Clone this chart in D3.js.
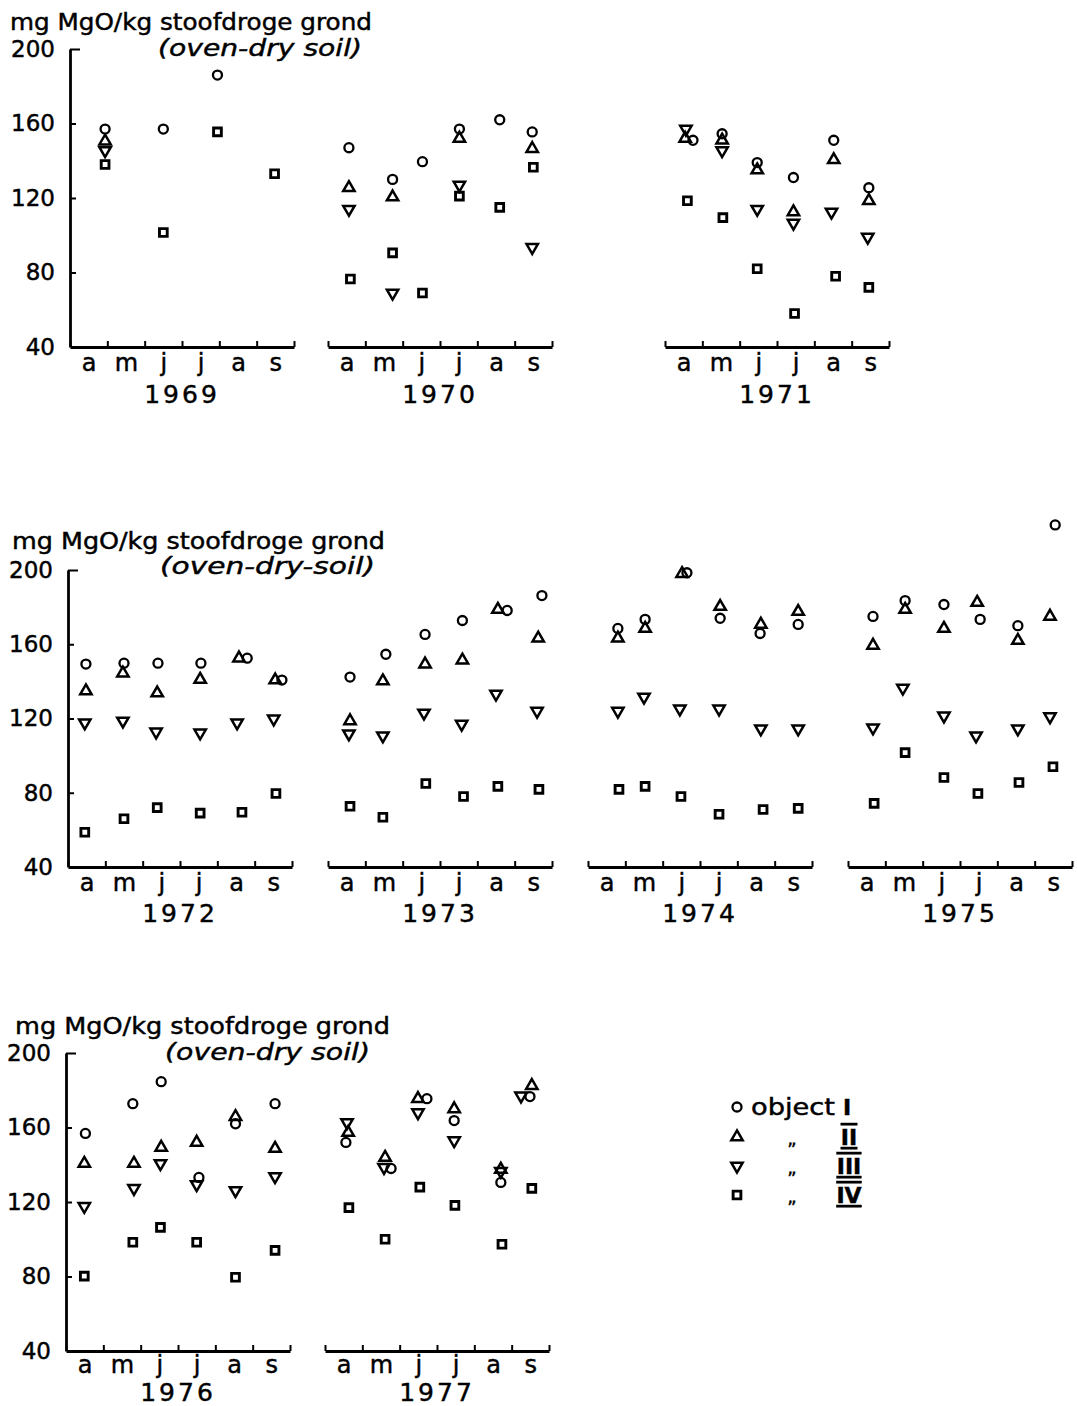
<!DOCTYPE html>
<html><head><meta charset="utf-8">
<script src="https://cdn.jsdelivr.net/npm/d3@7"></script>
<style>
body{margin:0;background:#fff}
svg{display:block}
text{font-family:"DejaVu Sans",sans-serif;fill:#000;stroke:#000;stroke-width:0.45px}
</style>
</head><body>
<svg id="c" width="1077" height="1406"></svg>
<script>
// ---------- data ----------
const months = ["a","m","j","j","a","s"];
const yTicks = [40,80,120,160,200];
const objects = ["I","II","III","IV"];
const titleText = "mg MgO/kg stoofdroge grond";
const subtitles = ["(oven-dry soil)","(oven-dry-soil)","(oven-dry soil)"];
const years = [1969,1970,1971,1972,1973,1974,1975,1976,1977];

// [object, position in months after 1 April, mg MgO/kg]
const data1969 = [
 ["I",0.94,157],["I",2.5,157],["I",3.95,186],
 ["II",0.94,150.5],
 ["III",0.94,145.5],
 ["IV",0.94,138],["IV",2.5,101.5],["IV",3.95,155.5],["IV",5.48,133]
];
const data1970 = [
 ["I",0.56,147],["I",1.73,130],["I",2.53,139.5],["I",3.52,157],["I",4.6,162],["I",5.47,155.5],
 ["II",0.56,125.5],["II",1.73,120.5],["II",3.52,152],["II",5.47,146.5],
 ["III",0.56,114],["III",1.73,69],["III",3.52,127],["III",5.47,93.5],
 ["IV",0.6,76.5],["IV",1.73,90.5],["IV",2.53,69],["IV",3.52,121],["IV",4.6,115],["IV",5.5,136.5]
];
const data1971 = [
 ["I",0.75,151],["I",1.53,154.5],["I",2.47,139],["I",3.44,131],["I",4.52,151],["I",5.46,125.5],
 ["II",0.54,152],["II",1.53,151],["II",2.47,135],["II",3.44,112.5],["II",4.52,140.5],["II",5.46,118.5],
 ["III",0.56,157],["III",1.53,145.5],["III",2.47,114],["III",3.44,106.5],["III",4.46,112.5],["III",5.43,99],
 ["IV",0.6,118.5],["IV",1.55,109.5],["IV",2.47,82],["IV",3.47,58],["IV",4.57,78],["IV",5.46,72]
];
const data1972 = [
 ["I",0.48,149.3],["I",1.5,149.8],["I",2.41,149.8],["I",3.56,149.8],["I",4.8,152.5],["I",5.73,140.7],
 ["II",0.48,134.8],["II",1.47,144.4],["II",2.39,133.7],["II",3.54,141],["II",4.58,152.5],["II",5.55,140.7],
 ["III",0.45,117.7],["III",1.47,118.7],["III",2.36,112.8],["III",3.54,112.3],["III",4.53,117.7],["III",5.51,119.8],
 ["IV",0.45,58.7],["IV",1.5,66],["IV",2.39,72],["IV",3.54,69],["IV",4.66,69.5],["IV",5.57,79.6]
];
const data1973 = [
 ["I",0.59,142.3],["I",1.55,154.6],["I",2.6,165.3],["I",3.6,172.8],["I",4.8,178.2],["I",5.73,186.2],
 ["II",0.59,118.7],["II",1.47,140.2],["II",2.6,149.3],["II",3.6,151.4],["II",4.55,178.7],["II",5.63,163.2],
 ["III",0.56,111.8],["III",1.47,110.7],["III",2.57,123],["III",3.58,117],["III",4.5,133.2],["III",5.6,124],
 ["IV",0.59,72.7],["IV",1.47,66.8],["IV",2.62,85],["IV",3.63,78],["IV",4.55,83.4],["IV",5.65,81.8]
];
const data1974 = [
 ["I",0.8,168.5],["I",1.53,173.4],["I",2.65,198.5],["I",3.54,174],["I",4.61,165.8],["I",5.63,170.7],
 ["II",0.8,163.2],["II",1.53,168.5],["II",2.52,198],["II",3.54,180.3],["II",4.63,170.7],["II",5.63,177.6],
 ["III",0.8,124],["III",1.5,131.6],["III",2.46,125.2],["III",3.51,125.2],["III",4.63,114.5],["III",5.63,114.5],
 ["IV",0.83,81.8],["IV",1.53,83.4],["IV",2.49,78],["IV",3.51,68.4],["IV",4.69,71],["IV",5.63,71.6]
];
const data1975 = [
 ["I",0.67,175],["I",1.53,183.5],["I",2.57,181.4],["I",3.54,173.4],["I",4.55,170],["I",5.55,224.3],
 ["II",0.67,159.4],["II",1.53,178.7],["II",2.57,168.5],["II",3.46,182.5],["II",4.55,162],["II",5.41,175],
 ["III",0.67,115],["III",1.47,136.4],["III",2.57,121.4],["III",3.43,110.7],["III",4.55,114.5],["III",5.41,121],
 ["IV",0.7,74.3],["IV",1.53,101.6],["IV",2.57,88.2],["IV",3.48,79.6],["IV",4.58,85.5],["IV",5.49,94]
];
const data1976 = [
 ["I",0.52,156.8],["I",1.79,172.8],["I",2.55,184.6],["I",3.56,133.2],["I",4.54,162],["I",5.6,172.8],
 ["II",0.49,140.7],["II",1.82,140.7],["II",2.55,149.3],["II",3.5,152],["II",4.54,165.8],["II",5.6,148.7],
 ["III",0.49,117.7],["III",1.82,127.3],["III",2.53,140.7],["III",3.5,129.4],["III",4.54,126.2],["III",5.6,133.7],
 ["IV",0.49,80.2],["IV",1.79,98.4],["IV",2.53,106.4],["IV",3.5,98.4],["IV",4.54,79.6],["IV",5.6,94]
];
const data1977 = [
 ["I",0.56,152],["I",1.77,138],["I",2.73,175.5],["I",3.46,163.7],["I",4.71,130.5],["I",5.49,176.6],
 ["II",0.62,157.3],["II",1.61,143.9],["II",2.49,175.5],["II",3.46,170],["II",4.71,137.5],["II",5.54,182.5],
 ["III",0.59,162.7],["III",1.58,138.6],["III",2.49,168],["III",3.46,153],["III",4.71,136.5],["III",5.25,177],
 ["IV",0.64,117],["IV",1.61,100],["IV",2.54,128],["IV",3.48,118.2],["IV",4.74,97.3],["IV",5.54,127.3]
];
const yearData = [data1969,data1970,data1971,data1972,data1973,data1974,data1975,data1976,data1977];

// ---------- layout ----------
const rows = [
 {y40:347, y200:49,  title:[10,30,362], sub:[158,56,204], mon:24, yr:56},
 {y40:867, y200:570, title:[12,549,373], sub:[160,574,215], mon:24, yr:55},
 {y40:1351,y200:1053,title:[15,1034,375], sub:[165,1060,205], mon:22, yr:50}
];
const panels = [
 {row:0,x0:70,yAxis:true},{row:0,x0:328},{row:0,x0:665},
 {row:1,x0:68,yAxis:true},{row:1,x0:328},{row:1,x0:588},{row:1,x0:848},
 {row:2,x0:66,yAxis:true},{row:2,x0:325}
];
const panelW = 224;

const svg = d3.select("#c");
svg.append("rect").attr("width",1077).attr("height",1406).attr("fill","#fff");

const symType = {I:d3.symbolCircle, II:d3.symbolTriangle, III:d3.symbolTriangle, IV:d3.symbolSquare};
const symSize = {I:64, II:56, III:56, IV:60};
const symRot = {I:0, II:0, III:180, IV:0};
const symW = {I:2.3, II:2.5, III:2.5, IV:2.9};

// titles
rows.forEach((r,i)=>{
  svg.append("text").attr("x",r.title[0]).attr("y",r.title[1])
    .attr("font-size",23).attr("textLength",r.title[2]).attr("lengthAdjust","spacingAndGlyphs")
    .text(titleText);
  svg.append("text").attr("x",r.sub[0]).attr("y",r.sub[1])
    .attr("font-size",23).attr("font-style","italic")
    .attr("textLength",r.sub[2]).attr("lengthAdjust","spacingAndGlyphs")
    .text(subtitles[i]);
});

panels.forEach((p,i)=>{
  const r = rows[p.row];
  const x = d3.scaleLinear().domain([0,6]).range([p.x0, p.x0+panelW]);
  const y = d3.scaleLinear().domain([40,200]).range([r.y40, r.y200]);
  const g = svg.append("g");

  // x axis ticks
  const xa = g.append("g").attr("transform",`translate(0,${r.y40})`)
    .call(d3.axisBottom(x).tickValues(d3.range(0,7)).tickSizeInner(-6).tickSizeOuter(0).tickFormat(""));
  xa.select(".domain").attr("stroke-width",2.8);
  xa.selectAll(".tick line").attr("stroke-width",2);

  // month labels
  const xl = g.append("g").attr("transform",`translate(0,${r.y40})`)
    .call(d3.axisBottom(x).tickValues(months.map((m,k)=>k+0.5)).tickSize(0).tickPadding(0)
      .tickFormat((d,k)=>months[k]));
  xl.select(".domain").remove();
  xl.selectAll(".tick text").attr("font-size",24).attr("dy",null)
    .attr("y",r.mon).attr("font-family","DejaVu Sans").attr("fill","#000");

  // year label
  g.append("text").attr("x",x(3)).attr("y",r.y40+r.yr).attr("text-anchor","middle")
    .attr("font-size",25).attr("letter-spacing",3).text(years[i]);

  if(p.yAxis){
    const ya = g.append("g").attr("transform",`translate(${p.x0},0)`)
      .call(d3.axisLeft(y).tickValues(yTicks).tickSizeInner(-6).tickSizeOuter(0).tickPadding(15));
    ya.select(".domain").attr("stroke-width",2.8);
    ya.selectAll(".tick line").attr("stroke-width",2);
    ya.selectAll(".tick").filter(d=>d===200).select("line").attr("x2",10);
    ya.selectAll(".tick").filter(d=>d===40).select("line").remove();
    ya.selectAll(".tick text").attr("font-size",23).attr("font-family","DejaVu Sans").attr("fill","#000");
  }

  // markers
  g.selectAll("path.pt").data(yearData[i]).join("path").attr("class","pt")
    .attr("transform",d=>`translate(${x(d[1])},${y(d[2])}) rotate(${symRot[d[0]]})`)
    .attr("d",d=>d3.symbol().type(symType[d[0]]).size(symSize[d[0]])())
    .attr("fill","none").attr("stroke","#000").attr("stroke-width",d=>symW[d[0]]);
});

// legend
const leg = svg.append("g");
const legY = [1107,1137,1166,1195];
objects.forEach((o,k)=>{
  leg.append("path").attr("transform",`translate(737,${legY[k]}) rotate(${symRot[o]})`)
    .attr("d",d3.symbol().type(symType[o]).size(symSize[o])())
    .attr("fill","none").attr("stroke","#000").attr("stroke-width",symW[o]);
  if(k===0){
    leg.append("text").attr("x",751).attr("y",legY[k]+8).attr("font-size",23)
      .attr("textLength",84).attr("lengthAdjust","spacingAndGlyphs").text("object");
  } else {
    leg.append("text").attr("x",792).attr("y",legY[k]+8).attr("font-size",18)
      .attr("text-anchor","middle").text("„");
  }
  leg.append("text").attr("x",k===0?847:849).attr("y",legY[k]+8).attr("text-anchor","middle")
    .attr("font-family","DejaVu Serif").attr("font-weight","bold").attr("font-size",22)
    .attr("text-decoration",k===0?null:"underline overline")
    .text(o);
});
</script>
</body></html>
